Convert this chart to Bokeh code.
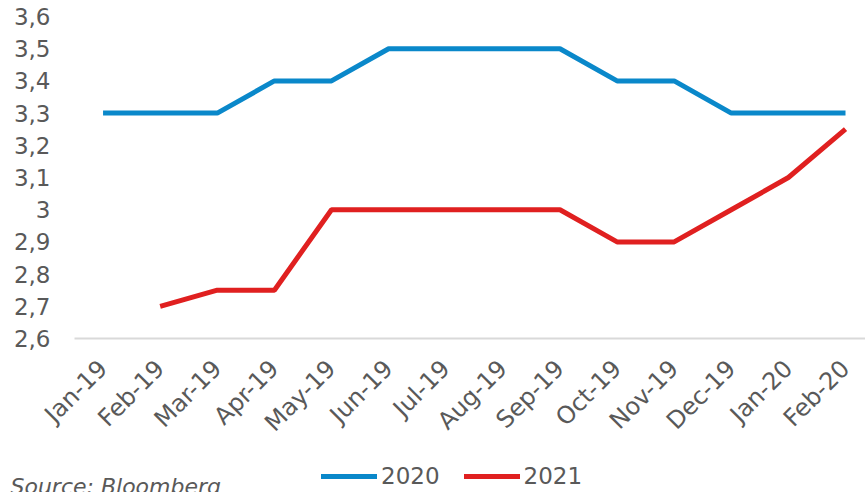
import math
from bokeh.plotting import figure
from bokeh.layouts import column
from bokeh.models import Legend, LegendItem, Label, FixedTicker, Range1d
from bokeh.embed import file_html
from bokeh.resources import INLINE

months = ["Jan-19", "Feb-19", "Mar-19", "Apr-19", "May-19", "Jun-19", "Jul-19",
          "Aug-19", "Sep-19", "Oct-19", "Nov-19", "Dec-19", "Jan-20", "Feb-20"]
s2020 = [3.3, 3.3, 3.3, 3.4, 3.4, 3.5, 3.5, 3.5, 3.5, 3.4, 3.4, 3.3, 3.3, 3.3]
s2021 = [float("nan"), 2.7, 2.75, 2.75, 3.0, 3.0, 3.0, 3.0, 3.0, 2.9, 2.9, 3.0, 3.1, 3.25]
y_ticks = [2.6, 2.7, 2.8, 2.9, 3.0, 3.1, 3.2, 3.3, 3.4, 3.5, 3.6]
y_tick_labels = ["2,6", "2,7", "2,8", "2,9", "3", "3,1", "3,2", "3,3", "3,4", "3,5", "3,6"]
series_names = ["2020", "2021"]
source_text = "Source: Bloomberg"

FONT = "DejaVu Sans"
TXT = "#595959"
BLUE = "#0A88CA"
RED = "#E02020"
LW = 5

x = list(range(len(months)))

p = figure(width=865, height=452, output_backend="svg", toolbar_location=None,
           x_range=Range1d(-0.5, 13.35), y_range=Range1d(2.6, 3.6),
           min_border_left=74, min_border_right=0, min_border_top=16,
           min_border_bottom=114)
p.frame_align = False
p.outline_line_color = None
p.grid.visible = False
p.background_fill_color = "white"
p.border_fill_color = "white"

p.line(x, s2020, line_color=BLUE, line_width=LW)
p.line(x, s2021, line_color=RED, line_width=LW)

xa = p.xaxis[0]
xa.ticker = FixedTicker(ticks=x)
xa.major_label_overrides = {i: m for i, m in zip(x, months)}
xa.major_label_orientation = math.pi / 4
xa.major_tick_line_color = None
xa.minor_tick_line_color = None
xa.major_tick_out = 0
xa.axis_line_color = "#D9D9D9"
xa.axis_line_width = 2
xa.major_label_text_font = FONT
xa.major_label_text_font_size = "24px"
xa.major_label_text_color = TXT
xa.major_label_standoff = 26

ya = p.yaxis[0]
ya.ticker = FixedTicker(ticks=y_ticks)
ya.major_label_overrides = {t: l for t, l in zip(y_ticks, y_tick_labels)}
ya.major_tick_line_color = None
ya.minor_tick_line_color = None
ya.major_tick_out = 0
ya.axis_line_color = None
ya.major_label_text_font = FONT
ya.major_label_text_font_size = "23px"
ya.major_label_text_color = TXT
ya.major_label_standoff = 24

# bottom strip: legend + source note
q = figure(width=865, height=40, output_backend="svg", toolbar_location=None,
           x_range=Range1d(0, 1), y_range=Range1d(0, 1),
           min_border=0, x_axis_type=None, y_axis_type=None)
q.frame_align = False
q.outline_line_color = None
q.grid.visible = False
q.border_fill_color = "white"
l1 = q.line([-5, -4], [-5, -4], line_color=BLUE, line_width=LW, line_cap="round")
l2 = q.line([-5, -4], [-5, -4], line_color=RED, line_width=LW, line_cap="round")

legend = Legend(items=[LegendItem(label=series_names[0], renderers=[l1]),
                       LegendItem(label=series_names[1], renderers=[l2])],
                orientation="horizontal", location=(321, 3),
                label_text_font=FONT, label_text_font_size="23px",
                label_text_color=TXT, glyph_width=56, glyph_height=24,
                label_standoff=4, spacing=24, padding=0, margin=0,
                border_line_color=None, background_fill_alpha=0)
q.add_layout(legend, "center")

src = Label(x=10, y=6, x_units="screen", y_units="screen",
            text=source_text, text_font=FONT, text_font_size="22px",
            text_font_style="italic", text_color=TXT, text_baseline="alphabetic")
q.add_layout(src)

layout = column(p, q, spacing=0)
open("out.html", "w").write(file_html(layout, INLINE))
